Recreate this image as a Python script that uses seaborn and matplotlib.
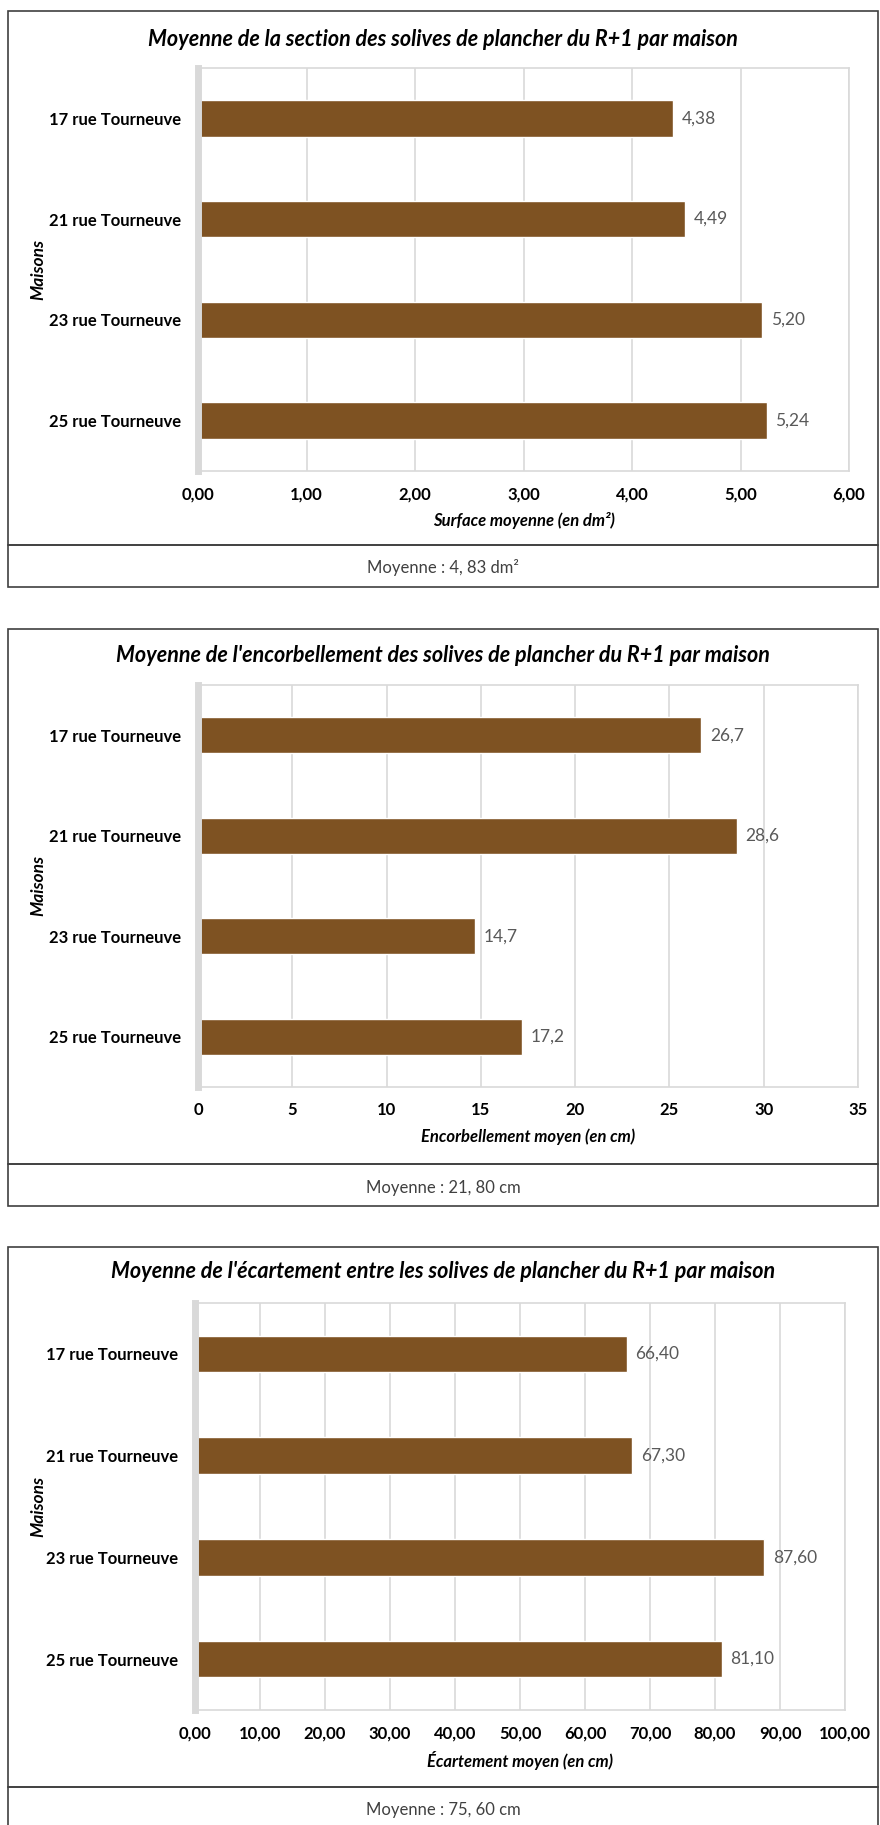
import matplotlib
matplotlib.use("Agg")
import matplotlib.pyplot as plt
from matplotlib.patches import Rectangle
from matplotlib.ticker import FuncFormatter
import seaborn as sns

# --- data ---
houses = ["17 rue Tourneuve", "21 rue Tourneuve", "23 rue Tourneuve", "25 rue Tourneuve"]

section_values = [4.38, 4.49, 5.20, 5.24]
section_ticks = [0, 1, 2, 3, 4, 5, 6]
section_title = "Moyenne de la section des solives de plancher du R+1 par maison"
section_xlabel = "Surface moyenne (en dm²)"
section_footer = "Moyenne : 4, 83 dm²"

encorb_values = [26.7, 28.6, 14.7, 17.2]
encorb_ticks = [0, 5, 10, 15, 20, 25, 30, 35]
encorb_title = "Moyenne de l'encorbellement des solives de plancher du R+1 par maison"
encorb_xlabel = "Encorbellement moyen (en cm)"
encorb_footer = "Moyenne : 21, 80 cm"

ecart_values = [66.40, 67.30, 87.60, 81.10]
ecart_ticks = [0, 10, 20, 30, 40, 50, 60, 70, 80, 90, 100]
ecart_title = "Moyenne de l'écartement entre les solives de plancher du R+1 par maison"
ecart_xlabel = "Écartement moyen (en cm)"
ecart_footer = "Moyenne : 75, 60 cm"

BROWN = "#7E5222"
GRID = "#d9d9d9"
W, H = 880, 1825

sns.set_theme(style="white")
plt.rcParams["font.family"] = ["Lato", "DejaVu Sans"]


def fr(x):
    return x / W


def fry(y):
    return 1 - y / H


def comma(v, decimals):
    return f"{v:.{decimals}f}".replace(".", ",")


def draw_panel(fig, values, ticks, title, xlabel, footer, tick_dec, val_dec, geo):
    x0, x1, ytop, ybot = geo["plot"]
    box_top, foot_line, box_bot = geo["box"]

    # outer frame and footer frame
    for (t, b) in [(box_top, foot_line), (foot_line, box_bot)]:
        fig.add_artist(Rectangle((fr(8), fry(b)), fr(870), (b - t) / H,
                                 transform=fig.transFigure, fill=False,
                                 edgecolor="#404040", linewidth=1.2))

    ax = fig.add_axes([fr(x0), fry(ybot), fr(x1 - x0), (ybot - ytop) / H])
    sns.barplot(x=values, y=houses, orient="h", color=BROWN, saturation=1,
                width=0.36, ax=ax)
    ax.set_xlim(ticks[0], ticks[-1])
    ax.set_xticks(ticks)
    ax.xaxis.set_major_formatter(FuncFormatter(lambda v, p: comma(v, tick_dec)))
    ax.grid(axis="x", color=GRID, linewidth=1.2)
    ax.set_axisbelow(True)

    for side in ["top", "right", "bottom"]:
        ax.spines[side].set_color(GRID)
        ax.spines[side].set_linewidth(1.2)
    ax.spines["left"].set_color(GRID)
    ax.spines["left"].set_linewidth(5)

    ax.tick_params(axis="x", length=0, pad=11, labelsize=12)
    ax.tick_params(axis="y", length=0, pad=12, labelsize=12)
    for lab in ax.get_xticklabels() + ax.get_yticklabels():
        lab.set_fontweight("bold")
        lab.set_color("black")

    ax.bar_label(ax.containers[0], labels=[comma(v, val_dec) for v in values],
                 padding=6, color="#595959", fontsize=12.5)

    ax.set_xlabel(xlabel, fontsize=12, fontweight="bold", style="italic",
                  labelpad=7, color="black")
    ax.set_ylabel("")
    fig.text(fr(38), fry((ytop + ybot) / 2), "Maisons", rotation=90,
             ha="center", va="center", fontsize=12.5, fontweight="bold",
             style="italic", color="black")

    fig.text(fr(443), fry(geo["title_y"]), title, ha="center", va="center",
             fontsize=15.5, fontweight="bold", style="italic", color="black")
    fig.text(fr(443), fry(geo["footer_y"]), footer, ha="center", va="center",
             fontsize=12, color="#404040")
    return ax


def main():
    fig = plt.figure(figsize=(W / 100, H / 100), dpi=100)
    fig.patch.set_facecolor("white")

    draw_panel(fig, section_values, section_ticks, section_title, section_xlabel,
               section_footer, 2, 2,
               {"plot": (198, 849, 68, 471), "box": (11, 545, 587),
                "title_y": 40, "footer_y": 567})
    draw_panel(fig, encorb_values, encorb_ticks, encorb_title, encorb_xlabel,
               encorb_footer, 0, 1,
               {"plot": (198, 858, 685, 1087), "box": (629, 1164, 1206),
                "title_y": 655, "footer_y": 1188})
    draw_panel(fig, ecart_values, ecart_ticks, ecart_title, ecart_xlabel,
               ecart_footer, 2, 2,
               {"plot": (195, 845, 1303, 1710), "box": (1247, 1787, 1835),
                "title_y": 1272, "footer_y": 1810})

    fig.savefig("out.png", dpi=100, facecolor="white")


if __name__ == "__main__":
    main()
